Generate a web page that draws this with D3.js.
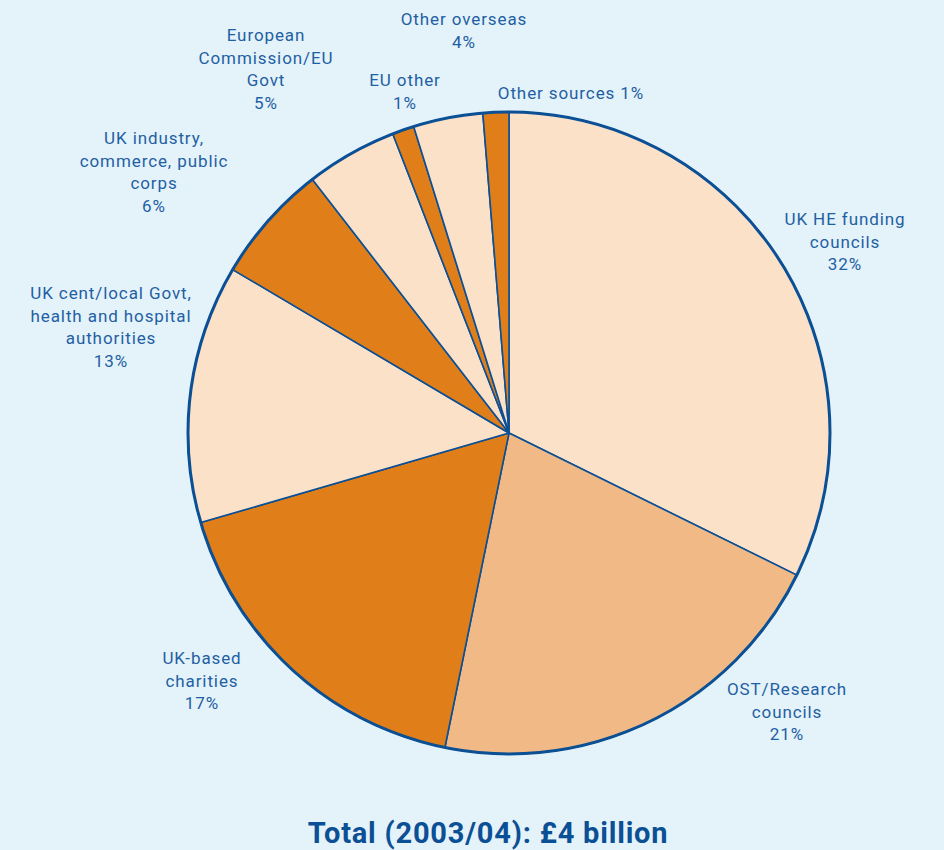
<!DOCTYPE html>
<html>
<head>
<meta charset="utf-8">
<script src="https://cdn.jsdelivr.net/npm/d3@7"></script>
<style>
  html, body { margin: 0; padding: 0; background: #e4f2f9; }
  svg { display: block; }
</style>
</head>
<body>
<div id="chart"></div>
<script>
// Sources of research income, 2003/04
const categories = [
  'UK HE funding councils',
  'OST/Research councils',
  'UK-based charities',
  'UK cent/local Govt, health and hospital authorities',
  'UK industry, commerce, public corps',
  'European Commission/EU Govt',
  'EU other',
  'Other overseas',
  'Other sources'
];
const shares = [32.3, 20.9, 17.3, 13.0, 6.0, 4.6, 1.1, 3.5, 1.3];
const pctLabels = ['32%', '21%', '17%', '13%', '6%', '5%', '1%', '4%', '1%'];
const labelLines = [
  ['UK HE funding', 'councils', '32%'],
  ['OST/Research', 'councils', '21%'],
  ['UK-based', 'charities', '17%'],
  ['UK cent/local Govt,', 'health and hospital', 'authorities', '13%'],
  ['UK industry,', 'commerce, public', 'corps', '6%'],
  ['European', 'Commission/EU', 'Govt', '5%'],
  ['EU other', '1%'],
  ['Other overseas', '4%'],
  ['Other sources 1%']
];
const colorGroup = ['light', 'mid', 'orange', 'light', 'orange', 'light', 'orange', 'light', 'orange'];
const title = 'Total (2003/04): £4 billion';

// layout
const width = 944, height = 850;
const cx = 509, cy = 433, radius = 321;
const palette = { light: '#fbe1c8', mid: '#f0b985', orange: '#e07f1a' };
const blue = '#0b4f95';
const textBlue = '#1f5fa3';
// label anchor (centre x, first baseline y) for each slice
const labelAnchor = [
  [845, 225], [787, 695], [202, 664], [111, 299], [154, 144],
  [266, 41], [405, 86], [464, 25], [571, 99]
];
const lineHeight = 22.5;

const svg = d3.select('#chart').append('svg')
  .attr('width', width)
  .attr('height', height);

const pie = d3.pie().sort(null).value(d => d)(shares);
const arc = d3.arc().innerRadius(0).outerRadius(radius);

const g = svg.append('g').attr('transform', `translate(${cx},${cy})`);

g.selectAll('path.slice')
  .data(pie)
  .enter()
  .append('path')
  .attr('class', 'slice')
  .attr('d', arc)
  .attr('fill', (d, i) => palette[colorGroup[i]])
  .attr('stroke', blue)
  .attr('stroke-width', 1.6)
  .attr('stroke-linejoin', 'round');

// thicker outer rim
g.append('circle')
  .attr('r', radius)
  .attr('fill', 'none')
  .attr('stroke', blue)
  .attr('stroke-width', 3);

// labels
const labels = svg.append('g')
  .style('font-family', 'Roboto, "Open Sans", sans-serif')
  .style('font-size', '17px')
  .style('letter-spacing', '0.9px')
  .style('fill', textBlue);

labelLines.forEach((lines, i) => {
  const t = labels.append('text')
    .attr('text-anchor', 'middle')
    .attr('x', labelAnchor[i][0])
    .attr('y', labelAnchor[i][1]);
  lines.forEach((ln, j) => {
    t.append('tspan')
      .attr('x', labelAnchor[i][0])
      .attr('dy', j === 0 ? 0 : lineHeight)
      .text(ln);
  });
});

svg.append('text')
  .attr('x', 488)
  .attr('y', 843)
  .attr('text-anchor', 'middle')
  .style('font-family', 'Roboto, "Open Sans", sans-serif')
  .style('font-weight', 'bold')
  .style('font-size', '29px')
  .style('letter-spacing', '0.8px')
  .style('fill', '#0b4f95')
  .text(title);
</script>
</body>
</html>
